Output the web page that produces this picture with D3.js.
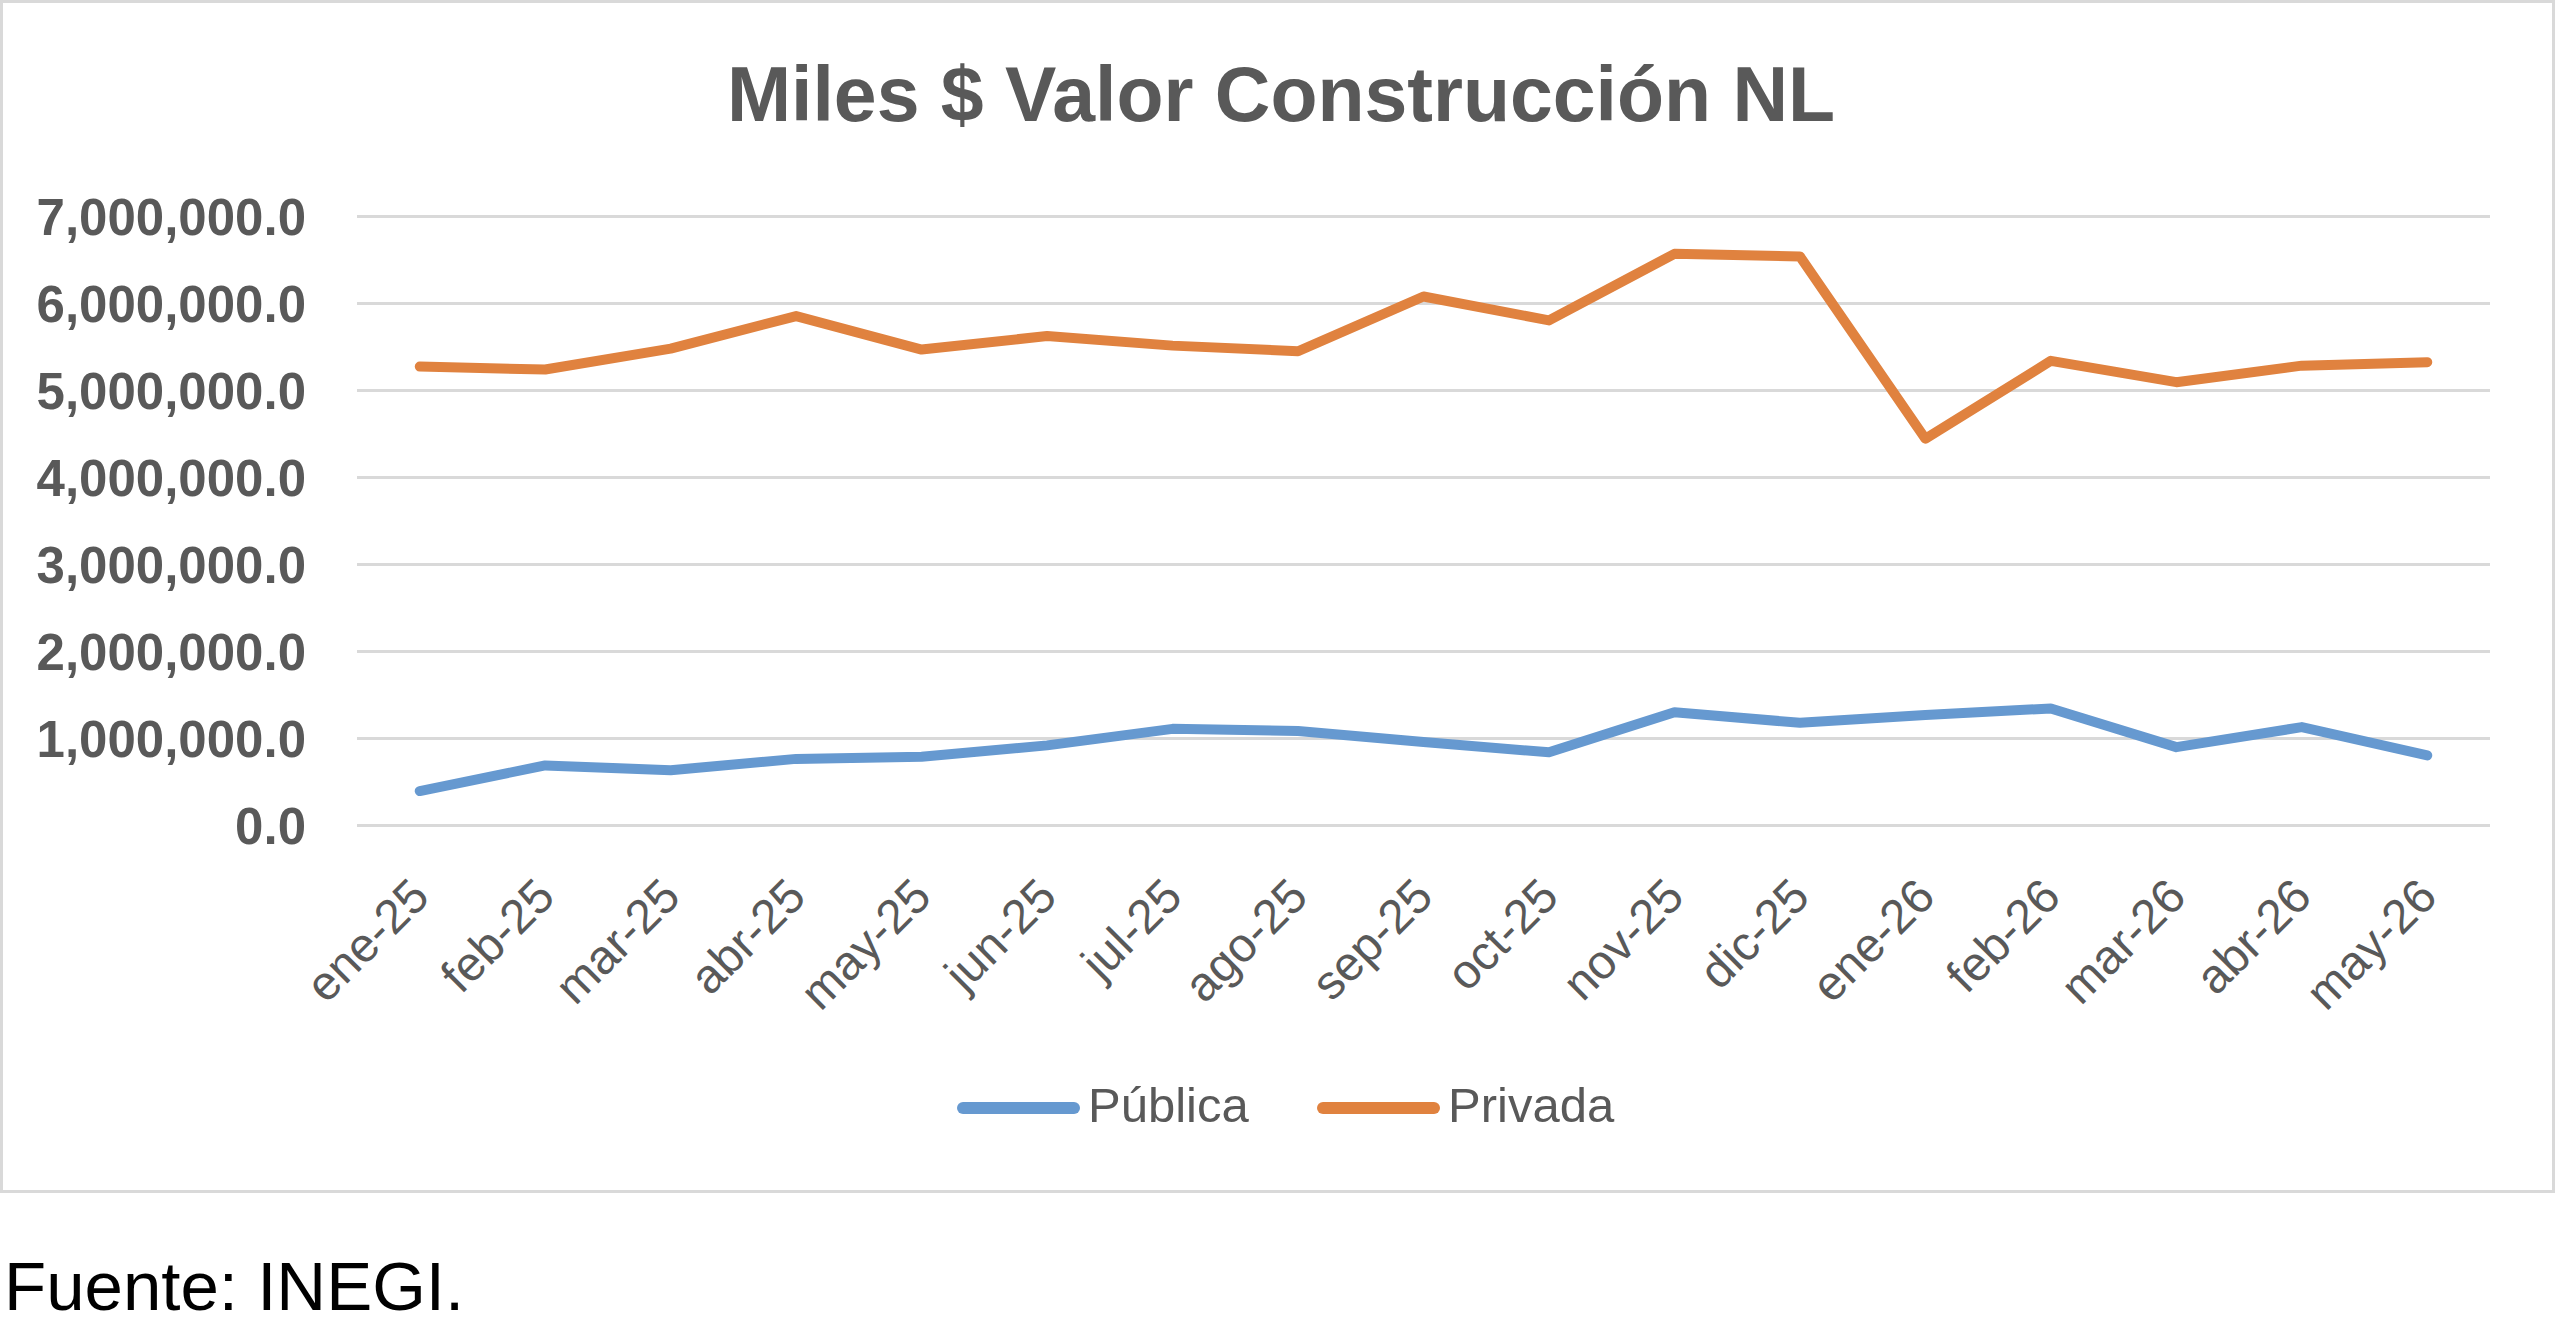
<!DOCTYPE html>
<html>
<head>
<meta charset="utf-8">
<script src="https://cdn.jsdelivr.net/npm/d3@7"></script>
<style>
	body { margin: 0; background: #fff; }
	svg { display: block; }
</style>
</head>
<body>
<svg width="2560" height="1330"></svg>
<script>
// datos (miles de pesos)
var months = ["ene-25", "feb-25", "mar-25", "abr-25", "may-25", "jun-25", "jul-25", "ago-25",
	"sep-25", "oct-25", "nov-25", "dic-25", "ene-26", "feb-26", "mar-26", "abr-26", "may-26"];
var publica = [390000, 685000, 630000, 760000, 785000, 915000, 1105000, 1080000,
	955000, 835000, 1295000, 1175000, 1265000, 1340000, 895000, 1125000, 800000];
var privada = [5270000, 5235000, 5475000, 5850000, 5465000, 5620000, 5510000, 5445000,
	6075000, 5800000, 6565000, 6535000, 4440000, 5335000, 5090000, 5280000, 5320000];
var yTicks = [0, 1000000, 2000000, 3000000, 4000000, 5000000, 6000000, 7000000];
var seriesNames = ["Pública", "Privada"];

function drawChart() {
	var svg = d3.select("svg"),
		margin = { top: 216, right: 70, bottom: 505, left: 357 },
		width = 2490 - margin.left,
		height = 825 - margin.top;

	var colors = ["#6699d0", "#e0823f"];
	var textGray = "#595959";

	// marco del grafico
	svg.append("rect")
		.attr("x", 1.5).attr("y", 1.5)
		.attr("width", 2552).attr("height", 1190)
		.attr("fill", "#fff")
		.attr("stroke", "#d9d9d9")
		.attr("stroke-width", 3);

	svg.append("text")
		.attr("x", 1281)
		.attr("y", 121)
		.attr("text-anchor", "middle")
		.style("font-family", "'Liberation Sans', Arial, sans-serif")
		.style("font-weight", "bold")
		.style("font-size", "77px")
		.attr("fill", textGray)
		.text("Miles $ Valor Construcción NL");

	var x = d3.scaleBand().domain(months).range([0, width]),
		y = d3.scaleLinear().domain([0, 7000000]).range([height, 0]);

	var g = svg.append("g")
		.attr("transform", "translate(" + margin.left + "," + margin.top + ")");

	// eje y con lineas de cuadricula
	var yAxis = g.append("g")
		.attr("class", "axis axis--y")
		.call(d3.axisLeft(y)
			.tickValues(yTicks)
			.tickSize(-width)
			.tickPadding(51)
			.tickFormat(d3.format(",.1f")));
	yAxis.select(".domain").remove();
	yAxis.selectAll(".tick line")
		.attr("stroke", "#d9d9d9")
		.attr("stroke-width", 3);
	yAxis.selectAll(".tick text")
		.attr("fill", textGray)
		.attr("dy", "0.36em")
		.style("font-family", "'Liberation Sans', Arial, sans-serif")
		.style("font-weight", "bold")
		.style("font-size", "51px");

	// eje x con etiquetas giradas
	var xAxis = g.append("g")
		.attr("class", "axis axis--x")
		.attr("transform", "translate(0," + height + ")")
		.call(d3.axisBottom(x).tickSize(0).tickPadding(0));
	xAxis.select(".domain").remove();
	xAxis.selectAll(".tick text")
		.attr("fill", textGray)
		.attr("text-anchor", "end")
		.attr("y", 0)
		.attr("dy", 0)
		.attr("transform", "translate(12,74) rotate(-45)")
		.style("font-family", "'Liberation Sans', Arial, sans-serif")
		.style("font-size", "48px");

	var line = d3.line()
		.x(function(d, i) { return x(months[i]) + x.bandwidth() / 2; })
		.y(function(d) { return y(d); });

	[publica, privada].forEach(function(s, k) {
		g.append("path")
			.datum(s)
			.attr("fill", "none")
			.attr("stroke", colors[k])
			.attr("stroke-width", 10)
			.attr("stroke-linejoin", "round")
			.attr("stroke-linecap", "round")
			.attr("d", line);
	});

	// leyenda
	var legendX = [957, 1317];
	var legend = svg.append("g");
	seriesNames.forEach(function(name, k) {
		legend.append("line")
			.attr("x1", legendX[k] + 6).attr("x2", legendX[k] + 117)
			.attr("y1", 1108).attr("y2", 1108)
			.attr("stroke", colors[k])
			.attr("stroke-width", 12)
			.attr("stroke-linecap", "round");
		legend.append("text")
			.attr("x", legendX[k] + 131)
			.attr("y", 1122)
			.attr("fill", textGray)
			.style("font-family", "'Liberation Sans', Arial, sans-serif")
			.style("font-size", "49px")
			.text(name);
	});

	svg.append("text")
		.attr("x", 4)
		.attr("y", 1310)
		.attr("fill", "#000")
		.style("font-family", "'Liberation Sans', Arial, sans-serif")
		.style("font-size", "69px")
		.text("Fuente: INEGI.");
}

drawChart();
</script>
</body>
</html>
